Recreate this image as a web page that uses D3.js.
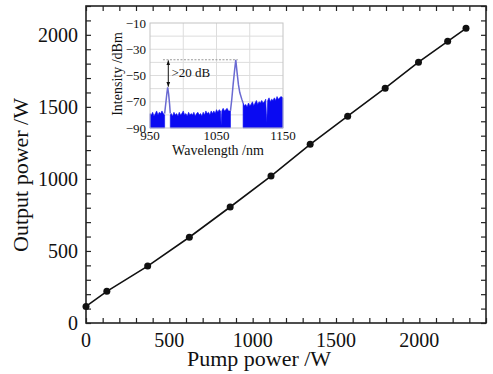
<!DOCTYPE html>
<html>
<head>
<meta charset="utf-8">
<script src="https://cdn.jsdelivr.net/npm/d3@7"></script>
<style>
  body { margin: 0; background: #fff; }
  text { font-family: "Liberation Serif", "DejaVu Serif", serif; fill: #111; }
</style>
</head>
<body>
<svg id="chart" width="493" height="374"></svg>
<script>
// main curve: pump power vs output power
const pumpW   = [0, 125, 370, 620, 865, 1110, 1345, 1570, 1795, 1995, 2170, 2280];
const outputW = [115, 220, 395, 595, 805, 1020, 1240, 1435, 1630, 1810, 1955, 2045];
const xTicks = [0, 500, 1000, 1500, 2000];
const yTicks = [0, 500, 1000, 1500, 2000];

// inset spectrum: noise floor pieces (nm, dBm)
const floorA = [[950,-79],[952,-80],[954,-78],[956,-81],[958,-79],[960,-77],[962,-80],[964,-78],[966,-79],[968,-77],[970,-79],[972,-80]];
const floorB = [[980.5,-80],[982,-79],[984,-81],[986,-78],[988,-80],[990,-79],[992,-81],[994,-78],[996,-80],[998,-79],[1000,-77],[1002,-80],
  [1004,-79],[1006,-81],[1008,-78],[1010,-80],[1012,-79],[1014,-80],[1016,-78],[1018,-81],[1020,-79],[1022,-78],[1024,-80],[1026,-79],
  [1028,-81],[1030,-78],[1032,-80],[1034,-77],[1036,-79],[1038,-78],[1040,-80],[1042,-77],[1044,-79],[1046,-77],[1048,-79],[1050,-76],
  [1052,-78],[1054,-76],[1056,-77],[1057,-88],[1058,-77],[1060,-75],[1062,-77],[1064,-76],[1066,-75],[1068,-77],[1071,-77]];
const floorC = [[1090,-71],[1092,-73],[1094,-72],[1096,-74],[1098,-71],[1100,-73],[1102,-72],[1104,-70],[1106,-73],[1108,-71],[1110,-69],
  [1112,-72],[1114,-70],[1116,-71],[1118,-69],[1120,-71],[1122,-70],[1124,-68],[1125.5,-86],[1127,-69],[1129,-67],[1131,-70],[1133,-68],
  [1135,-69],[1137,-67],[1139,-69],[1141,-66],[1143,-68],[1145,-67],[1147,-66],[1150,-67]];
// peaks
const peak1 = [[972,-79],[974,-70],[975.5,-63],[976.6,-59],[978,-64],[979.5,-72],[980.5,-79]];
const peak2 = [[1071,-77],[1073,-68],[1075,-57],[1077,-47],[1079,-38],[1081,-48],[1083,-57],[1085,-63],[1088,-68],[1090,-71]];
const insetXTicks = [950, 1050, 1150];
const insetYTicks = [-10, -30, -50, -70, -90];

const svg = d3.select("#chart");

const x = d3.scaleLinear().domain([0, 2400]).range([86, 486]);
const y = d3.scaleLinear().domain([0, 2200]).range([323, 6]);

// frame
svg.append("rect")
  .attr("x", 86).attr("y", 6).attr("width", 400).attr("height", 317)
  .attr("fill", "none").attr("stroke", "#222").attr("stroke-width", 1.6);

// inward ticks on all sides
const minorX = d3.range(0, 2401, 100);
const minorY = d3.range(0, 2201, 100);
svg.append("g").call(d3.axisBottom(x).tickValues(minorX).tickSize(-5).tickFormat(""))
  .attr("transform", "translate(0,323)");
svg.append("g").call(d3.axisTop(x).tickValues(minorX).tickSize(-5).tickFormat(""))
  .attr("transform", "translate(0,6)");
svg.append("g").call(d3.axisLeft(y).tickValues(minorY).tickSize(-5).tickFormat(""))
  .attr("transform", "translate(86,0)");
svg.append("g").call(d3.axisRight(y).tickValues(minorY).tickSize(-5).tickFormat(""))
  .attr("transform", "translate(486,0)");
svg.selectAll(".domain").remove();
svg.selectAll(".tick line").attr("stroke", "#222").attr("stroke-width", 1.2);

// tick labels
svg.append("g").selectAll("text").data(xTicks).enter().append("text")
  .attr("x", d => x(d)).attr("y", 347)
  .attr("text-anchor", "middle").attr("font-size", 20)
  .text(d => d);
svg.append("g").selectAll("text").data(yTicks).enter().append("text")
  .attr("x", 78).attr("y", d => y(d) + 7)
  .attr("text-anchor", "end").attr("font-size", 20)
  .text(d => d);

// axis titles
svg.append("text")
  .attr("x", 259).attr("y", 366)
  .attr("text-anchor", "middle").attr("font-size", 22)
  .text("Pump power /W");
svg.append("text")
  .attr("transform", "translate(28,175) rotate(-90)")
  .attr("text-anchor", "middle").attr("font-size", 22)
  .text("Output power /W");

// line + dots
const pts = pumpW.map((p, i) => [p, outputW[i]]);
svg.append("path")
  .datum(pts)
  .attr("d", d3.line().x(d => x(d[0])).y(d => y(d[1])))
  .attr("fill", "none").attr("stroke", "#111").attr("stroke-width", 1.6);
svg.append("g").selectAll("circle").data(pts).enter().append("circle")
  .attr("cx", d => x(d[0])).attr("cy", d => y(d[1]))
  .attr("r", 3.5).attr("fill", "#111");

// ---- inset ----
const ix = d3.scaleLinear().domain([950, 1150]).range([150, 283]);
const iy = d3.scaleLinear().domain([-90, -10]).range([128, 23]);

svg.append("rect")
  .attr("x", 150).attr("y", 23).attr("width", 133).attr("height", 105)
  .attr("fill", "#fff");

// grid
svg.append("g").selectAll("line").data(d3.range(-80, -10, 10)).enter().append("line")
  .attr("x1", 150).attr("x2", 283).attr("y1", d => iy(d)).attr("y2", d => iy(d))
  .attr("stroke", "#ddd").attr("stroke-width", 1);
svg.append("g").selectAll("line").data([1000, 1050, 1100]).enter().append("line")
  .attr("y1", 23).attr("y2", 128).attr("x1", d => ix(d)).attr("x2", d => ix(d))
  .attr("stroke", "#ddd").attr("stroke-width", 1);

// noise floor fill
const floorArea = d3.area().x(d => ix(d[0])).y0(iy(-90)).y1(d => iy(d[1]));
[floorA, floorB, floorC].forEach(seg => {
  svg.append("path").datum(seg).attr("d", floorArea)
    .attr("fill", "#0a0af2").attr("stroke", "#0a0af2").attr("stroke-width", 0.6);
});
// peaks
const specLine = d3.line().x(d => ix(d[0])).y(d => iy(d[1]));
[peak1, peak2].forEach(seg => {
  svg.append("path").datum(seg).attr("d", specLine)
    .attr("fill", "none").attr("stroke", "#6a6ad2").attr("stroke-width", 1.5);
});

svg.append("rect")
  .attr("x", 150).attr("y", 23).attr("width", 133).attr("height", 105)
  .attr("fill", "none").attr("stroke", "#c4c4c4").attr("stroke-width", 1);

// inset tick labels
svg.append("g").selectAll("text").data(insetYTicks).enter().append("text")
  .attr("x", 146).attr("y", d => iy(d) + 4.5)
  .attr("text-anchor", "end").attr("font-size", 13)
  .text(d => "\u2212" + Math.abs(d));
svg.append("g").selectAll("text").data(insetXTicks).enter().append("text")
  .attr("x", d => ix(d)).attr("y", 140)
  .attr("text-anchor", "middle").attr("font-size", 13)
  .text(d => d);
svg.append("text")
  .attr("x", 218).attr("y", 155)
  .attr("text-anchor", "middle").attr("font-size", 14)
  .text("Wavelength /nm");
svg.append("text")
  .attr("transform", "translate(122,74) rotate(-90)")
  .attr("text-anchor", "middle").attr("font-size", 14)
  .text("Intensity /dBm");

// >20 dB annotation
svg.append("line")
  .attr("x1", ix(969.5)).attr("x2", ix(1082)).attr("y1", iy(-38)).attr("y2", iy(-38))
  .attr("stroke", "#999").attr("stroke-width", 1).attr("stroke-dasharray", "2,1.5");
svg.append("defs").append("marker")
  .attr("id", "ah").attr("viewBox", "0 0 10 10").attr("refX", 10).attr("refY", 5)
  .attr("markerWidth", 5).attr("markerHeight", 5).attr("orient", "auto-start-reverse")
  .append("path").attr("d", "M0,1 L10,5 L0,9 Z").attr("fill", "#111");
svg.append("line")
  .attr("x1", ix(977.5)).attr("x2", ix(977.5)).attr("y1", iy(-38.5)).attr("y2", iy(-58.5))
  .attr("stroke", "#111").attr("stroke-width", 1)
  .attr("marker-start", "url(#ah)").attr("marker-end", "url(#ah)");
svg.append("text")
  .attr("x", 171.5).attr("y", 77)
  .attr("font-size", 13)
  .text(">20 dB");
</script>
</body>
</html>
